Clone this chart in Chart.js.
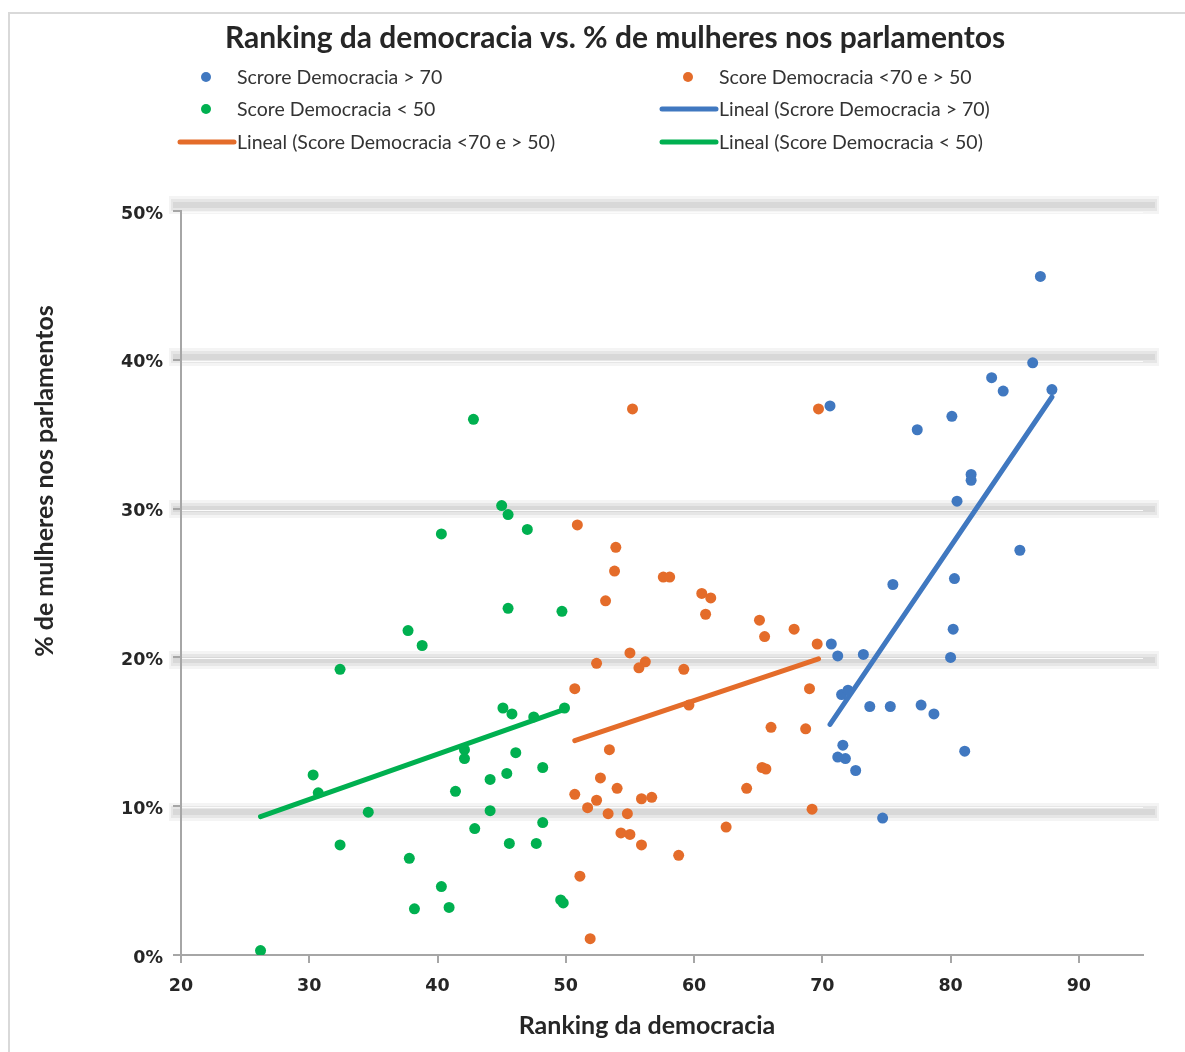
<!DOCTYPE html>
<html>
<head>
<meta charset="utf-8">
<script src="https://cdn.jsdelivr.net/npm/chart.js@4.4.0/dist/chart.umd.min.js"></script>
<style>
  html, body { margin: 0; padding: 0; background: #fff; }
  #frame { position: absolute; left: 8px; top: 12px; width: 1200px; height: 1100px;
           border-left: 2px solid #d9d9d9; border-top: 2px solid #d9d9d9; }
  canvas { position: absolute; left: 0; top: 0; }
</style>
</head>
<body>
<div id="frame"></div>
<canvas id="chart" width="1185" height="1052"></canvas>
<script>
// Scrore Democracia > 70
const blueX = [87.0, 86.4, 83.2, 84.1, 87.9, 70.6, 80.1, 77.4, 81.6, 81.6, 80.5, 85.4, 80.3, 75.5, 80.2, 70.7,
  71.2, 73.2, 80.0, 71.5, 72.0, 73.7, 75.3, 77.7, 78.7, 71.6, 71.2, 71.8, 72.6, 81.1, 74.7];
const blueY = [45.6, 39.8, 38.8, 37.9, 38.0, 36.9, 36.2, 35.3, 32.3, 31.9, 30.5, 27.2, 25.3, 24.9, 21.9, 20.9,
  20.1, 20.2, 20.0, 17.5, 17.8, 16.7, 16.7, 16.8, 16.2, 14.1, 13.3, 13.2, 12.4, 13.7, 9.2];

// Score Democracia <70 e > 50
const orangeX = [55.2, 69.7, 50.9, 53.9, 53.8, 57.6, 58.1, 53.1, 60.6, 61.3, 60.9, 65.1, 65.5, 67.8, 69.6, 55.0,
  52.4, 56.2, 55.7, 59.2, 50.7, 69.0, 59.6, 66.0, 68.7, 53.4, 52.7, 54.0, 50.7, 51.7, 52.4, 55.9, 56.7, 53.3,
  54.8, 64.1, 65.3, 65.6, 69.2, 62.5, 54.3, 55.0, 55.9, 58.8, 51.1, 51.9];
const orangeY = [36.7, 36.7, 28.9, 27.4, 25.8, 25.4, 25.4, 23.8, 24.3, 24.0, 22.9, 22.5, 21.4, 21.9, 20.9, 20.3,
  19.6, 19.7, 19.3, 19.2, 17.9, 17.9, 16.8, 15.3, 15.2, 13.8, 11.9, 11.2, 10.8, 9.9, 10.4, 10.5, 10.6, 9.5,
  9.5, 11.2, 12.6, 12.5, 9.8, 8.6, 8.2, 8.1, 7.4, 6.7, 5.3, 1.1];

// Score Democracia < 50
const greenX = [42.8, 45.0, 45.5, 47.0, 40.3, 45.5, 49.7, 37.7, 38.8, 32.4, 45.1, 45.8, 47.5, 49.9, 42.1, 42.1,
  46.1, 30.3, 30.7, 41.4, 44.1, 45.4, 48.2, 34.6, 44.1, 42.9, 48.2, 32.4, 37.8, 45.6, 47.7, 40.3, 38.2, 40.9,
  49.6, 49.8, 26.2];
const greenY = [36.0, 30.2, 29.6, 28.6, 28.3, 23.3, 23.1, 21.8, 20.8, 19.2, 16.6, 16.2, 16.0, 16.6, 13.8, 13.2,
  13.6, 12.1, 10.9, 11.0, 11.8, 12.2, 12.6, 9.6, 9.7, 8.5, 8.9, 7.4, 6.5, 7.5, 7.5, 4.6, 3.1, 3.2,
  3.7, 3.5, 0.3];

// linear trend lines (end points)
const blueTrendX = [70.6, 87.9];
const blueTrendY = [15.5, 37.5];
const orangeTrendX = [50.7, 69.7];
const orangeTrendY = [14.4, 19.9];
const greenTrendX = [26.2, 49.9];
const greenTrendY = [9.3, 16.5];

const xTicks = [20, 30, 40, 50, 60, 70, 80, 90];
const yTicks = [0, 10, 20, 30, 40, 50];

const BLUE = '#4078c0';
const ORANGE = '#e46c2a';
const GREEN = '#00b050';
const TEXT = '#262626';
const SANS = 'Lato, "Open Sans", sans-serif';
const TICKFONT = '"DejaVu Sans", Verdana, sans-serif';

const pts = (xs, ys) => xs.map((x, i) => ({ x: x, y: ys[i] }));

function dots(label, xs, ys, color) {
  return { type: 'scatter', label: label, data: pts(xs, ys), backgroundColor: color, borderColor: color,
    borderWidth: 0, pointRadius: 5.5, order: 2 };
}
function trend(label, xs, ys, color) {
  return { type: 'line', label: label, data: pts(xs, ys), borderColor: color, backgroundColor: color,
    borderWidth: 5, borderCapStyle: 'round', pointRadius: 0, fill: false, order: 1 };
}

// the shaded horizontal bands used as gridlines (drawn under the axes)
const bandGrid = {
  id: 'bandGrid',
  beforeDraw(chart) {
    const { ctx, chartArea, scales } = chart;
    const x0 = chartArea.left - 12, w = chartArea.right - chartArea.left + 28;
    ctx.save();
    yTicks.filter(v => v > 0).forEach(v => {
      const ty = scales.y.getPixelForValue(v);
      const py = Math.round(ty + (30 - v) * 0.28);
      ctx.fillStyle = '#f4f4f4';
      ctx.fillRect(x0, py - 9, w, 18);
      ctx.fillStyle = '#e6e6e6';
      ctx.fillRect(x0 + 2, py - 6, w - 4, 12);
      ctx.fillStyle = '#d8d8d8';
      ctx.fillRect(x0 + 4, py - 3, w - 8, 6);
      ctx.fillStyle = '#fbfbfb';
      ctx.fillRect(chartArea.left, Math.round(ty) + 1, chartArea.right - chartArea.left, 1);
    });
    ctx.restore();
  }
};

// title, legend and axis titles laid out like the original
const decor = {
  id: 'decor',
  afterDraw(chart) {
    const { ctx } = chart;
    const ds = chart.data.datasets;
    ctx.save();
    ctx.fillStyle = TEXT;
    ctx.textBaseline = 'middle';
    ctx.textAlign = 'center';
    ctx.font = 'bold 30px ' + SANS;
    ctx.fillText('Ranking da democracia vs. % de mulheres nos parlamentos', 615, 38);

    const items = [
      { d: ds[0], col: 0, row: 0 }, { d: ds[1], col: 1, row: 0 },
      { d: ds[2], col: 0, row: 1 }, { d: ds[3], col: 1, row: 1 },
      { d: ds[4], col: 0, row: 2 }, { d: ds[5], col: 1, row: 2 }
    ];
    const colText = [237, 719];
    const rowY = [77, 109, 142];
    ctx.textAlign = 'left';
    ctx.font = '19.5px ' + SANS;
    items.forEach(it => {
      const tx = colText[it.col], y = rowY[it.row];
      if (it.d.type === 'scatter') {
        ctx.fillStyle = it.d.backgroundColor;
        ctx.beginPath();
        ctx.arc(tx - 31, y, 5, 0, Math.PI * 2);
        ctx.fill();
      } else {
        ctx.strokeStyle = it.d.borderColor;
        ctx.lineWidth = 5;
        ctx.lineCap = 'round';
        ctx.beginPath();
        ctx.moveTo(tx - 57, y);
        ctx.lineTo(tx - 3, y);
        ctx.stroke();
      }
      ctx.fillStyle = '#333';
      ctx.fillText(it.d.label, tx, y + 1);
    });

    ctx.fillStyle = TEXT;
    ctx.textAlign = 'center';
    ctx.font = 'bold 25px ' + SANS;
    ctx.fillText('Ranking da democracia', 647, 1026);
    ctx.translate(45, 481);
    ctx.rotate(-Math.PI / 2);
    ctx.fillText('% de mulheres nos parlamentos', 0, 0);
    ctx.restore();
  }
};

new Chart(document.getElementById('chart'), {
  data: {
    datasets: [
      dots('Scrore Democracia > 70', blueX, blueY, BLUE),
      dots('Score Democracia <70 e > 50', orangeX, orangeY, ORANGE),
      dots('Score Democracia < 50', greenX, greenY, GREEN),
      trend('Lineal (Scrore Democracia > 70)', blueTrendX, blueTrendY, BLUE),
      trend('Lineal (Score Democracia <70 e > 50)', orangeTrendX, orangeTrendY, ORANGE),
      trend('Lineal (Score Democracia < 50)', greenTrendX, greenTrendY, GREEN)
    ]
  },
  options: {
    responsive: false,
    animation: false,
    layout: { padding: { left: 0, right: 42, top: 211, bottom: 0 } },
    plugins: { legend: { display: false }, title: { display: false }, tooltip: { enabled: false } },
    scales: {
      x: {
        type: 'linear',
        min: 20, max: 95,
        afterFit: s => { s.height = 97; },
        afterBuildTicks: s => { s.ticks = xTicks.map(v => ({ value: v })); },
        ticks: { color: TEXT, padding: 13, font: { family: TICKFONT, weight: 'bold', size: 17.5 } },
        grid: { drawOnChartArea: false, drawTicks: true, tickLength: 8, color: '#a6a6a6', lineWidth: 2 },
        border: { color: '#a6a6a6', width: 2 }
      },
      y: {
        type: 'linear',
        min: 0, max: 50,
        afterFit: s => { s.width = 181; },
        afterBuildTicks: s => { s.ticks = yTicks.map(v => ({ value: v })); },
        ticks: { color: TEXT, padding: 10, labelOffset: 3, callback: v => v + '%',
          font: { family: TICKFONT, weight: 'bold', size: 17.5 } },
        grid: { drawOnChartArea: false, drawTicks: true, tickLength: 8, color: '#a6a6a6', lineWidth: 2 },
        border: { color: '#a6a6a6', width: 2 }
      }
    }
  },
  plugins: [bandGrid, decor]
});
</script>
</body>
</html>
